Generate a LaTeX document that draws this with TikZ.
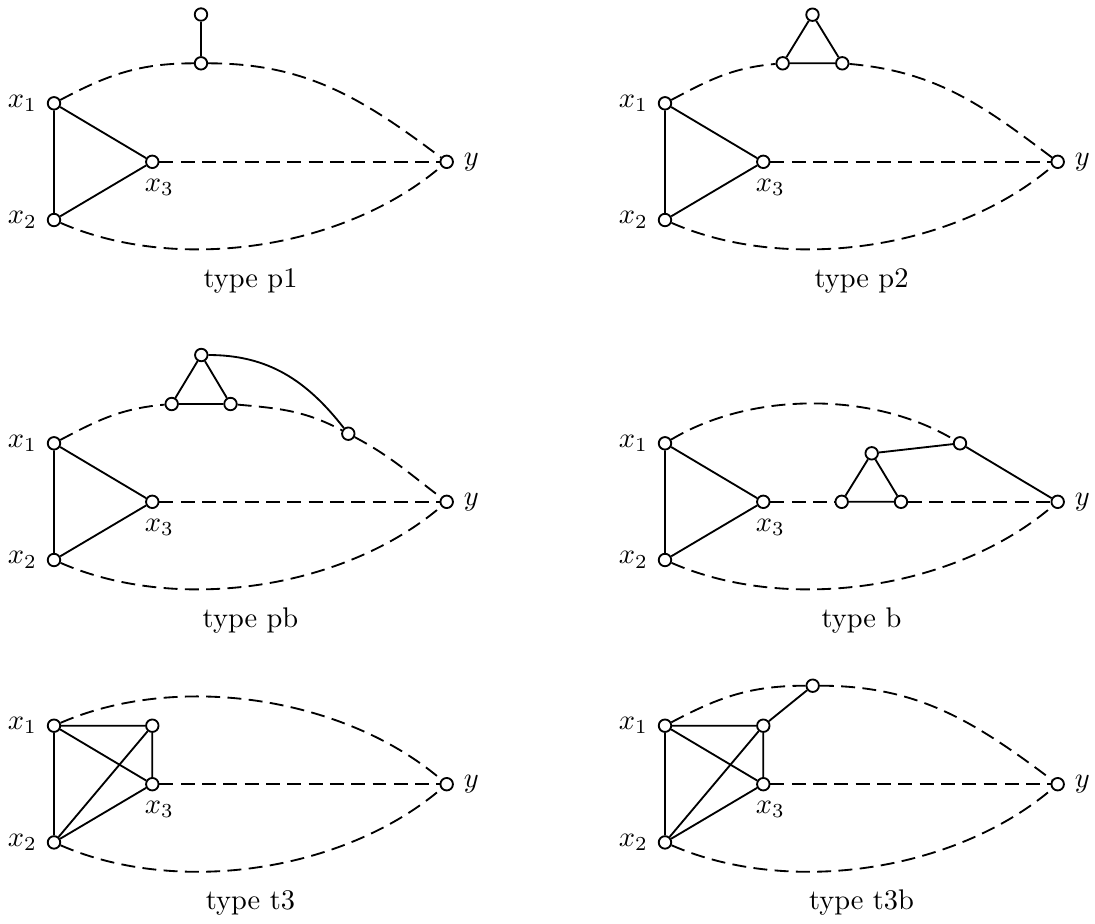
\documentclass[tikz,border=0pt]{standalone}
\begin{document}
\begin{tikzpicture}[x=0.352pt,y=0.352pt]
\tikzset{
  vtx/.style={circle, draw, fill=white, inner sep=0pt, minimum size=4.4pt, line width=0.65pt},
  edge/.style={line width=0.65pt},
  dedge/.style={line width=0.65pt, dash pattern=on 4.9pt off 2.6pt},
  lens/.style={looseness=0.85},
  captext/.style={anchor=base}
}
\useasboundingbox (0,0) rectangle (1095,-924);

% common part of every graph: triangle x1 x2 x3, vertex y, lower path x2 -- y
\newcommand\corepanel[1]{%
  \node[vtx,label=left:$x_1$] (#1x1) at (54,-103.3) {};
  \node[vtx,label=left:$x_2$] (#1x2) at (54,-220) {};
  \node[vtx,label={[xshift=2.5pt]below:$x_3$}] (#1x3) at (152.3,-161.8) {};
  \node[vtx,label=right:$y$] (#1y) at (446.7,-161.8) {};
  \draw[edge] (#1x1) -- (#1x2) (#1x1) -- (#1x3) (#1x2) -- (#1x3);
  \draw[dedge] (#1x2) to[bend right=32,lens] (#1y);
}

% type p1
\begin{scope}
  \corepanel{a}
  \node[vtx] (at) at (201,-63.3) {};
  \node[vtx] (ap) at (201,-14.5) {};
  \draw[edge] (at) -- (ap);
  \draw[dedge] (ax3) -- (ay);
  \draw[dedge] (ax1) to[out=28,in=180] (at);
  \draw[dedge] (at) to[out=0,in=143] (ay);
  \node[captext] (acap) at (250.5,-287) {type p1};
\end{scope}

% type p2
\begin{scope}[shift={(611,0)}]
  \corepanel{b}
  \node[vtx] (bl) at (171.7,-63.3) {};
  \node[vtx] (br) at (231.3,-63.3) {};
  \node[vtx] (bt) at (201.5,-14.7) {};
  \draw[edge] (bl) -- (br) -- (bt) -- (bl);
  \draw[dedge] (bx3) -- (by);
  \draw[dedge] (bx1) to[out=28,in=185] (bl);
  \draw[dedge] (br) to[out=-5,in=143] (by);
  \node[captext] (bcap) at (250.5,-287) {type p2};
\end{scope}

% type pb
\begin{scope}[shift={(0,-340)}]
  \corepanel{c}
  \node[vtx] (cl) at (171.7,-64) {};
  \node[vtx] (cr) at (230.5,-64) {};
  \node[vtx] (ct) at (201.3,-15) {};
  \node[vtx] (ca) at (348.3,-93.7) {};
  \draw[edge] (cl) -- (cr) -- (ct) -- (cl);
  \draw[edge] (ct) to[out=0,in=128] (ca);
  \draw[dedge] (cx3) -- (cy);
  \draw[dedge] (cx1) to[out=28,in=185] (cl);
  \draw[dedge] (cr) to[out=-5,in=152] (ca);
  \draw[dedge] (ca) to[out=-28,in=143] (cy);
  \node[captext] (ccap) at (250.5,-287) {type pb};
\end{scope}

% type b
\begin{scope}[shift={(611,-340)}]
  \corepanel{d}
  \node[vtx] (da) at (349,-103.3) {};
  \node[vtx] (dl) at (230.7,-161.8) {};
  \node[vtx] (dr) at (290,-161.8) {};
  \node[vtx] (dt) at (260.7,-113.3) {};
  \draw[edge] (dl) -- (dr) -- (dt) -- (dl);
  \draw[edge] (dt) -- (da) -- (dy);
  \draw[dedge] (dx3) -- (dl);
  \draw[dedge] (dr) -- (dy);
  \draw[dedge] (dx1) to[bend left=31,lens] (da);
  \node[captext] (dcap) at (250.5,-287) {type b};
\end{scope}

% type t3
\begin{scope}[shift={(0,-622.4)}]
  \corepanel{e}
  \node[vtx] (ew) at (152.3,-103.3) {};
  \draw[edge] (ex1) -- (ew) -- (ex3) (ex2) -- (ew);
  \draw[dedge] (ex3) -- (ey);
  \draw[dedge] (ex1) to[bend left=32,lens] (ey);
  \node[captext] (ecap) at (250.5,-287) {type t3};
\end{scope}

% type t3b
\begin{scope}[shift={(611,-622.4)}]
  \corepanel{f}
  \node[vtx] (fw) at (152.3,-103.3) {};
  \node[vtx] (ft) at (201.7,-63.3) {};
  \draw[edge] (fx1) -- (fw) -- (fx3) (fx2) -- (fw);
  \draw[edge] (fw) -- (ft);
  \draw[dedge] (fx3) -- (fy);
  \draw[dedge] (fx1) to[out=28,in=180] (ft);
  \draw[dedge] (ft) to[out=0,in=143] (fy);
  \node[captext] (fcap) at (250.5,-287) {type t3b};
\end{scope}
\end{tikzpicture}
\end{document}
